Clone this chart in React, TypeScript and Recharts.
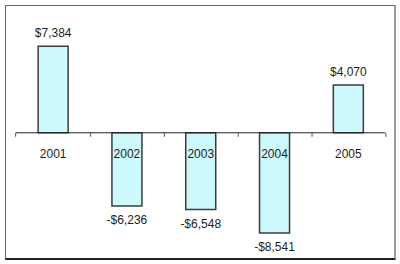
import React from "react";
import { BarChart, Bar, XAxis, YAxis, ReferenceLine, LabelList } from "recharts";

const years = ["2001", "2002", "2003", "2004", "2005"];
const results = [7384, -6236, -6548, -8541, 4070];

const data = years.map((year, i) => ({ year, value: results[i] }));

const W = 400;
const H = 264;
const GAP = 0.3; // barCategoryGap as fraction of band
const TEXT = "#1e1e1e";
const FONT = "'Liberation Sans', Arial, sans-serif";

const fmtMoney = (v: number) =>
  `${v < 0 ? "-" : ""}$${Math.abs(v).toLocaleString("en-US")}`;

// zero line y of a bar, whichever way the rect was normalised
function zeroOf(value: number, y: number, height: number) {
  return value >= 0 ? y + height : Math.min(y, y + height);
}

function ValueLabel(props: any) {
  const { x, y, width, height, value } = props;
  const top = Math.min(y, y + height);
  const bottom = Math.max(y, y + height);
  const cy = value >= 0 ? top - 13 : bottom + 14;
  return (
    <text x={x + width / 2} y={cy} textAnchor="middle" dominantBaseline="central"
      fontSize={12} fontFamily={FONT} fill={TEXT}>
      {fmtMoney(value)}
    </text>
  );
}

function CategoryLabel(props: any) {
  const { x, y, width, height, value, index } = props;
  const v = results[index];
  const zy = zeroOf(v, y, height);
  const cx = x + width / 2;
  const band = width / (1 - 2 * GAP);
  return (
    <g>
      {index === 0 && (
        <line x1={cx - band / 2} x2={cx - band / 2} y1={zy} y2={zy + 4} stroke="#555" />
      )}
      <line x1={cx + band / 2} x2={cx + band / 2} y1={zy} y2={zy + 4} stroke="#555" />
      <text x={cx} y={zy + 21} textAnchor="middle" dominantBaseline="central"
        fontSize={12} fontFamily={FONT} fill={TEXT}>
        {value}
      </text>
    </g>
  );
}

export default function App() {
  return (
    <div style={{ position: "absolute", left: 0, top: 0, width: W, height: H, background: "#fff" }}>
      <BarChart width={W} height={H} data={data}
        margin={{ top: 39, right: 15, left: 16, bottom: 14 }}
        barCategoryGap="30%">
        <XAxis dataKey="year" hide />
        <YAxis hide domain={[-10000, 8000]} />
        <Bar dataKey="value" fill="#cdf8fc" stroke="#3c3c3c" strokeWidth={1.5}
          isAnimationActive={false}>
          <LabelList dataKey="value" content={<ValueLabel />} />
          <LabelList dataKey="year" content={<CategoryLabel />} />
        </Bar>
        <ReferenceLine y={0} stroke="#222" strokeWidth={1} />
      </BarChart>
      <div style={{
        position: "absolute", left: 5, top: 5, width: 388, height: 252,
        borderLeft: "1px solid #666", borderTop: "1px solid #666",
        borderRight: "2px solid #999", borderBottom: "2px solid #222",
        pointerEvents: "none",
      }} />
    </div>
  );
}
